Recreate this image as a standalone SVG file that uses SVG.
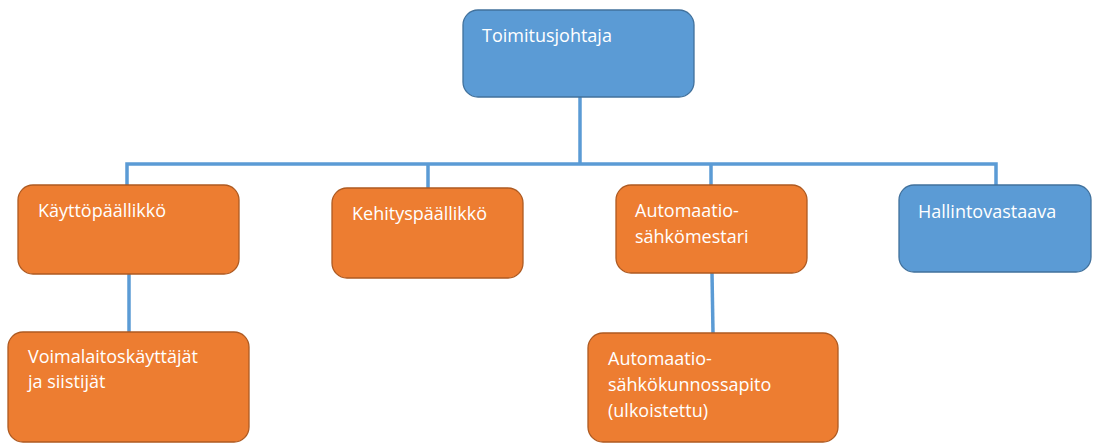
<svg xmlns="http://www.w3.org/2000/svg" width="1093" height="443" viewBox="0 0 1093 443">
<style>
.blue{fill:#5B9BD5;stroke:#41719C;stroke-width:1.3}
.orange{fill:#ED7D31;stroke:#AE5A21;stroke-width:1.3}
.lbl{font-family:"Open Sans","Noto Sans","Liberation Sans",sans-serif;font-size:18px;fill:#FFFFFF}
.conn{stroke:#5B9BD5;stroke-width:3.5;fill:none}
</style>
<rect width="1093" height="443" fill="#FFFFFF"/>
<g id="connectors">
<line class="conn" x1="580" y1="97" x2="580" y2="164"/>
<polyline class="conn" points="127,186 127,164 996,164 996,186"/>
<line class="conn" x1="428" y1="164" x2="428" y2="188"/>
<line class="conn" x1="711" y1="164" x2="711" y2="185"/>
<line class="conn" x1="129" y1="274" x2="129" y2="332"/>
<line class="conn" x1="712" y1="273" x2="713" y2="333"/>
</g>
<g id="toimitusjohtaja">
<rect class="blue" x="463" y="10" width="231" height="87" rx="15"/>
<text class="lbl" x="482" y="42">Toimitusjohtaja</text>
</g>
<g id="kayttopaallikko">
<rect class="orange" x="18" y="185" width="221" height="89" rx="15"/>
<text class="lbl" x="38" y="217">Käyttöpäällikkö</text>
</g>
<g id="kehityspaallikko">
<rect class="orange" x="332" y="188" width="191" height="90" rx="15"/>
<text class="lbl" x="352" y="220">Kehityspäällikkö</text>
</g>
<g id="automaatiosahkomestari">
<rect class="orange" x="616" y="185" width="191" height="88" rx="15"/>
<text class="lbl" x="635" y="217">Automaatio-</text>
<text class="lbl" x="635" y="243">sähkömestari</text>
</g>
<g id="hallintovastaava">
<rect class="blue" x="899" y="185" width="192" height="87" rx="15"/>
<text class="lbl" x="918" y="218">Hallintovastaava</text>
</g>
<g id="voimalaitoskayttajat">
<rect class="orange" x="8" y="332" width="241" height="110" rx="15"/>
<text class="lbl" x="28" y="363">Voimalaitoskäyttäjät</text>
<text class="lbl" x="28" y="388">ja siistijät</text>
</g>
<g id="automaatiosahkokunnossapito">
<rect class="orange" x="588" y="333" width="250" height="109" rx="15"/>
<text class="lbl" x="608" y="365">Automaatio-</text>
<text class="lbl" x="608" y="391">sähkökunnossapito</text>
<text class="lbl" x="608" y="417">(ulkoistettu)</text>
</g>
</svg>
